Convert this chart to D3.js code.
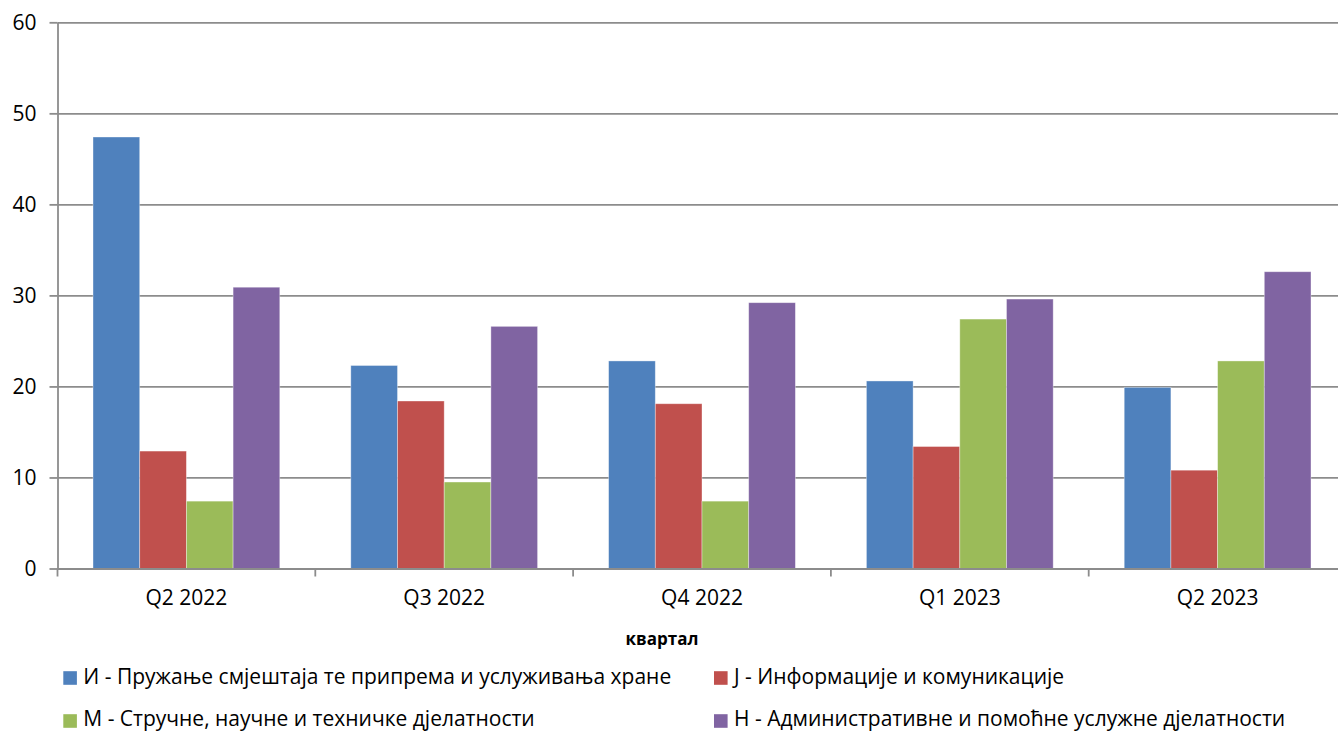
<!DOCTYPE html>
<html><head><meta charset="utf-8">
<script src="https://cdn.jsdelivr.net/npm/d3@7"></script>
<style>body{margin:0;background:#fff}svg{display:block}</style>
</head><body>
<svg id="c" width="1338" height="731"></svg>
<script>
const categories = ["Q2 2022","Q3 2022","Q4 2022","Q1 2023","Q2 2023"];
const seriesNames = [
  "И - Пружање смјештаја те припрема и услуживања хране",
  "J - Информације и комуникације",
  "M - Стручне, научне и техничке дјелатности",
  "Н - Административне и помоћне услужне дјелатности"
];
const seriesI = [47.4, 22.3, 22.8, 20.6, 19.9];
const seriesJ = [12.9, 18.4, 18.1, 13.4, 10.8];
const seriesM = [7.4, 9.5, 7.4, 27.4, 22.8];
const seriesN = [30.9, 26.6, 29.2, 29.6, 32.6];
const colors = ["#4F81BD","#C0504D","#9BBB59","#8064A2"];
const yTicks = [0,10,20,30,40,50,60];
const xTitle = "квартал";

const allSeries = [seriesI, seriesJ, seriesM, seriesN];
const font = "'Open Sans', 'Noto Sans', sans-serif";
const svg = d3.select("#c");

const mLeft = 57.5, mTop = 22.3, mBottom = 568.5, catW = 257.8;
const x0 = d3.scaleBand().domain(categories).range([mLeft, mLeft + catW*categories.length]).padding(0);
const groupW = x0.bandwidth()*0.7245;
const x1 = d3.scaleBand().domain(d3.range(4)).range([0, groupW]).padding(0);
const y = d3.scaleLinear().domain([0,60]).range([mBottom, mTop]);

// gridlines
const gy = svg.append("g").attr("transform",`translate(${mLeft},0)`)
  .call(d3.axisLeft(y).tickValues(yTicks).tickSize(-(1338-mLeft)).tickSizeOuter(0).tickFormat(""));
gy.select(".domain").remove();
gy.selectAll("line").attr("stroke","#8c8c8c").attr("stroke-width",1.8);

// bars
const groups = svg.append("g").selectAll("g").data(categories).join("g")
  .attr("transform", d => `translate(${x0(d) + (x0.bandwidth()-groupW)/2},0)`);
groups.selectAll("rect").data((c,i) => allSeries.map((s,k) => ({k, v: s[i]}))).join("rect")
  .attr("x", d => x1(d.k)).attr("width", x1.bandwidth())
  .attr("y", d => y(d.v)).attr("height", d => y(0) - y(d.v))
  .attr("fill", d => colors[d.k]).attr("stroke","rgba(255,255,255,0.45)").attr("stroke-width",0.8);

// y axis
const ya = svg.append("g").attr("transform",`translate(${mLeft},0)`)
  .call(d3.axisLeft(y).tickValues(yTicks).tickSize(8).tickSizeOuter(0).tickPadding(13));
ya.select(".domain").attr("stroke","#8c8c8c").attr("stroke-width",1.8);
ya.selectAll("line").attr("stroke","#8c8c8c").attr("stroke-width",1.8);
ya.selectAll("text").attr("font-family",font).attr("font-size",21).attr("fill","#000");

// x axis
const xa = svg.append("g").attr("transform",`translate(0,${mBottom})`)
  .call(d3.axisBottom(x0).tickSize(0).tickPadding(22));
xa.select(".domain").attr("stroke","#8c8c8c").attr("stroke-width",1.8);
xa.selectAll("text").attr("font-family",font).attr("font-size",21).attr("fill","#000");
svg.append("g").selectAll("line").data(categories).join("line")
  .attr("x1", d => x0(d)).attr("x2", d => x0(d))
  .attr("y1", mBottom).attr("y2", mBottom + 8)
  .attr("stroke","#8c8c8c").attr("stroke-width",1.8);

// x title
svg.append("text").attr("x", 662).attr("y", 645).attr("text-anchor","middle")
  .attr("font-family",font).attr("font-size",17).attr("font-weight","bold").text(xTitle);

// legend
const legPos = [[63.3,678,677],[714,678,677],[63.3,721,718.5],[714,721,718.5]];
const lg = svg.append("g").selectAll("g").data(seriesNames).join("g")
  .attr("transform",(d,i)=>`translate(${legPos[i][0]},0)`);
lg.append("rect").attr("x",0).attr("y",(d,i)=>legPos[i][1]-6.8).attr("width",13.6).attr("height",13.6)
  .attr("fill",(d,i)=>colors[i]);
lg.append("text").attr("x",20).attr("y",(d,i)=>legPos[i][2]).attr("dy","0.35em")
  .attr("font-family",font).attr("font-size",21).text(d=>d);
</script>
</body></html>
